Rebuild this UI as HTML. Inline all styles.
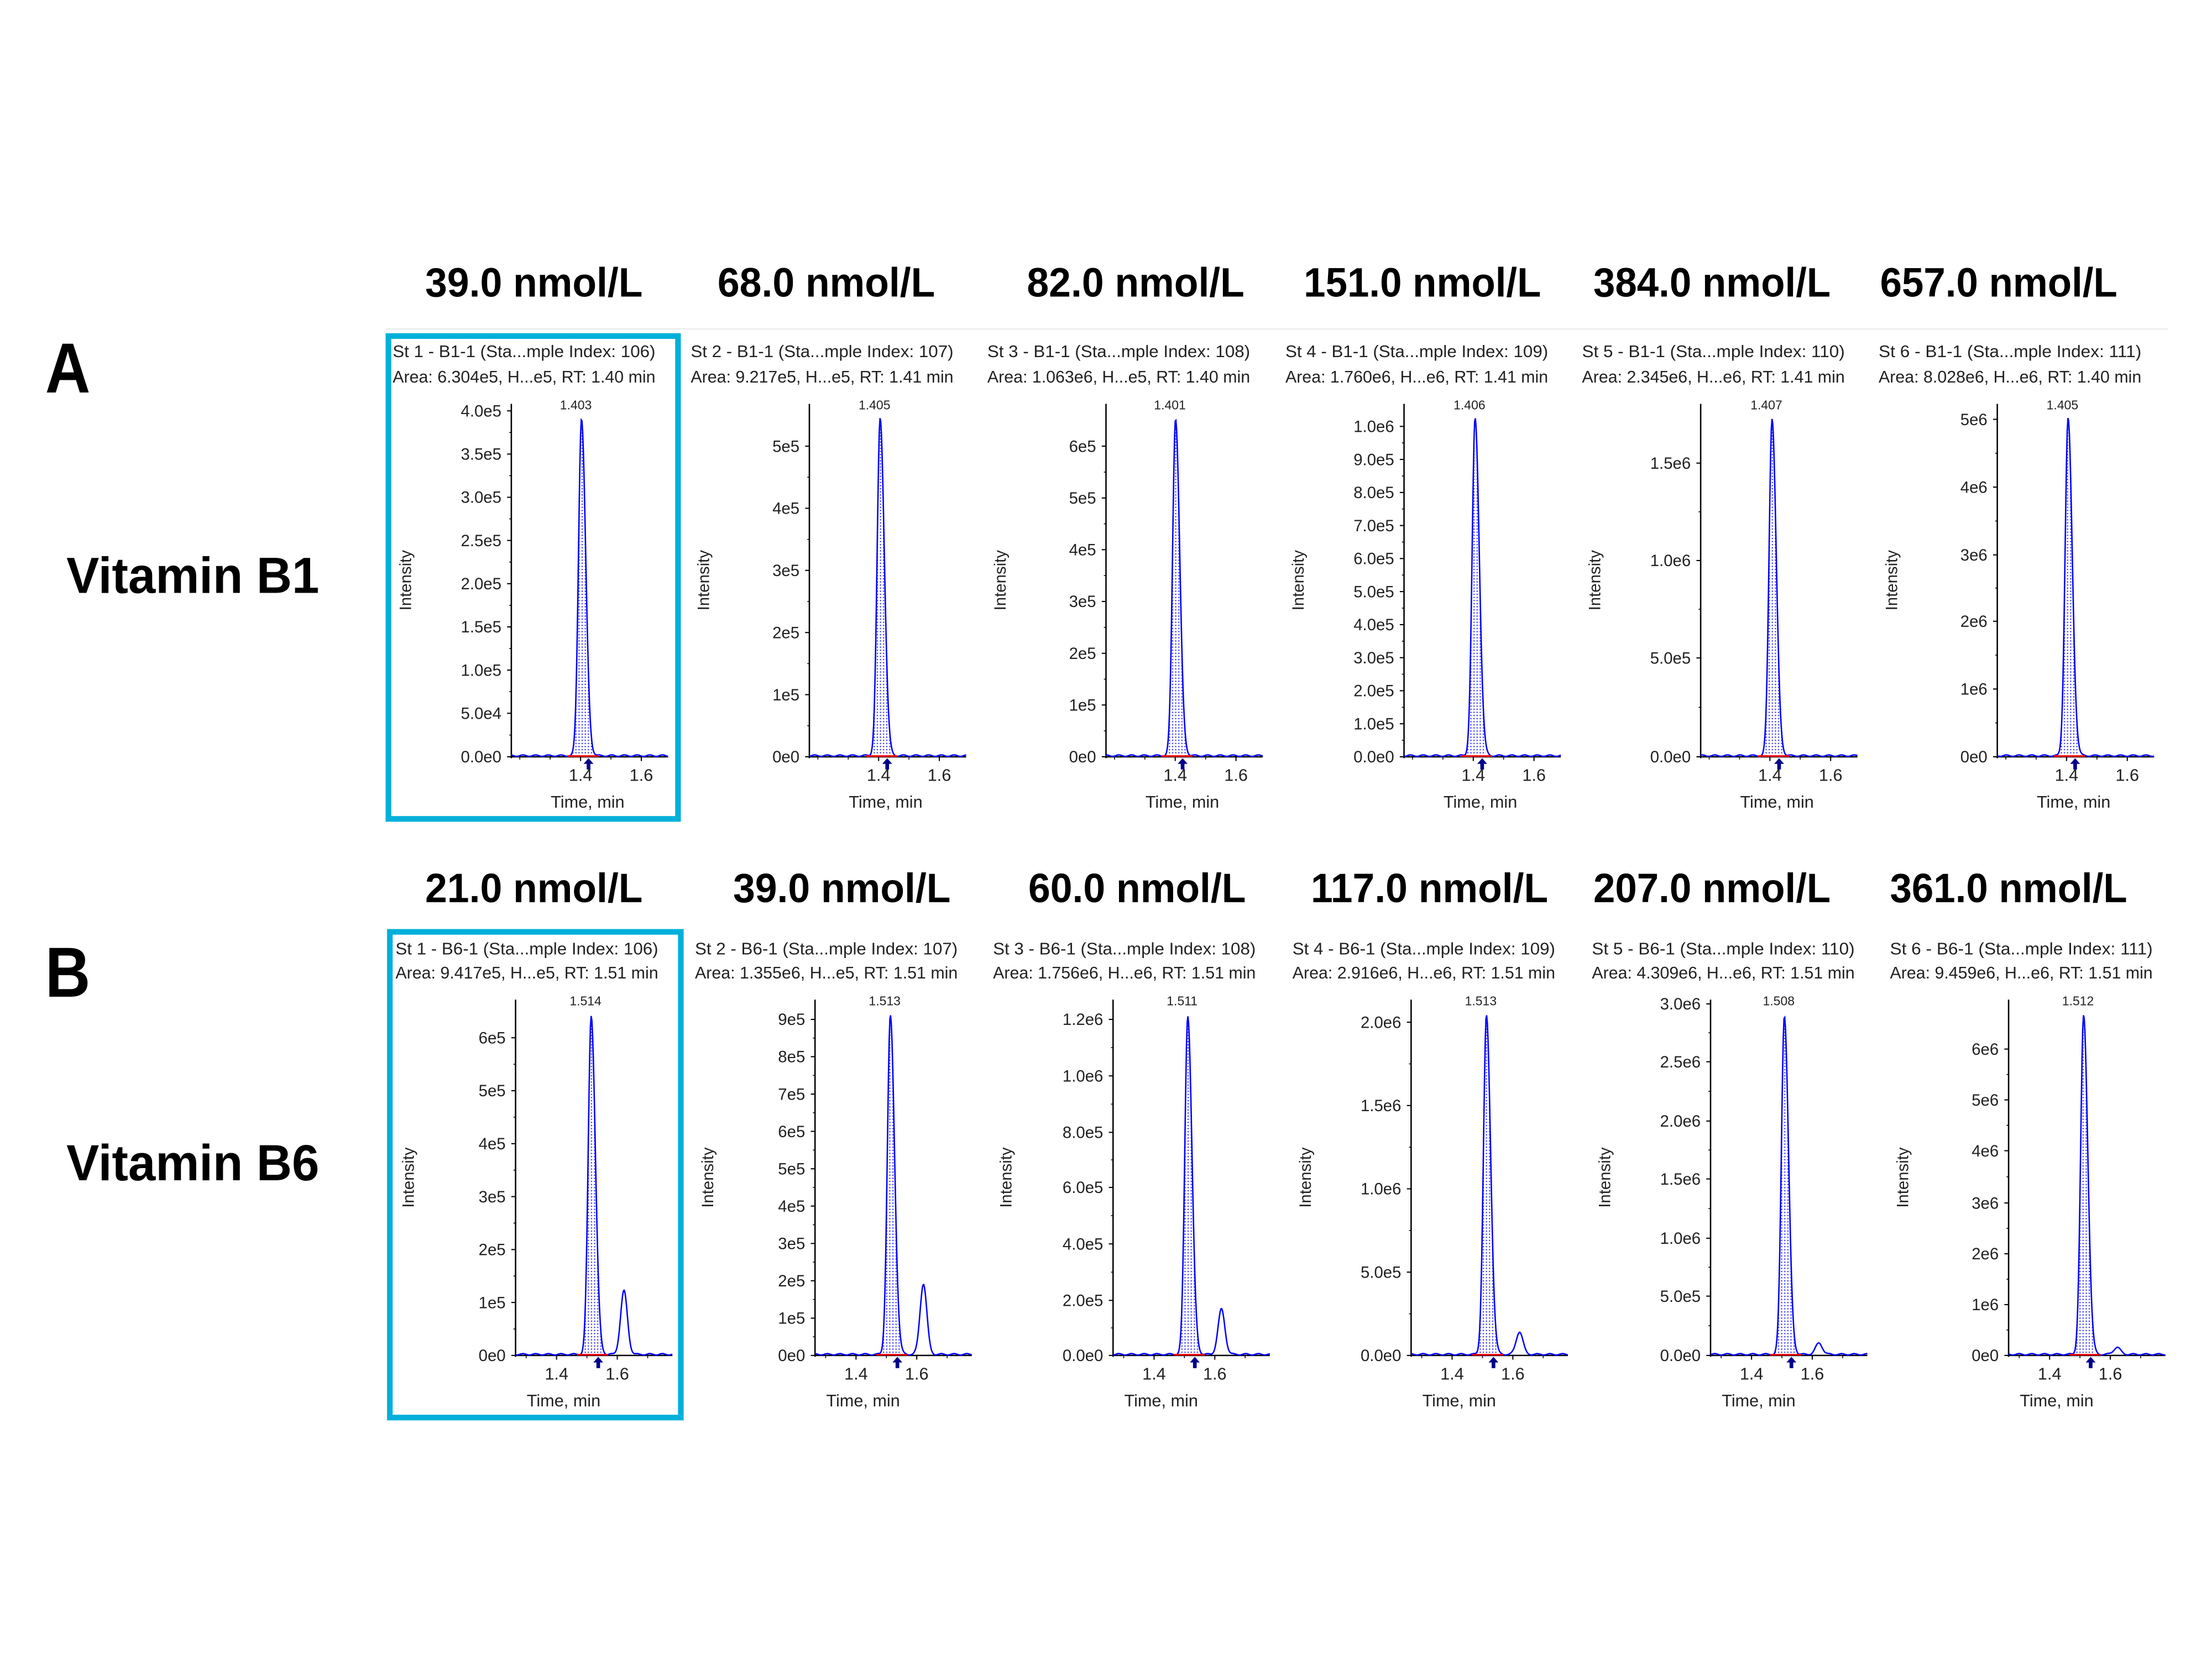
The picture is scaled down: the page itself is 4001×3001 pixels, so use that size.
<!DOCTYPE html>
<html><head><meta charset="utf-8">
<style>html,body{margin:0;padding:0;background:#fff;}svg{display:block;}</style>
</head><body>
<svg id="s" xmlns="http://www.w3.org/2000/svg" width="4001" height="3001" viewBox="0 0 1566 1175" preserveAspectRatio="none">
<defs>
<pattern id="dots" width="2.2" height="2.2" patternUnits="userSpaceOnUse">
<rect width="2.2" height="2.2" fill="#fff"/>
<rect x="0.3" y="0.3" width="0.9" height="0.9" fill="#3a3aff"/>
</pattern>
</defs>
<rect width="1566" height="1175" fill="#fff"/>
<line x1="273" y1="233" x2="1535" y2="233" stroke="#ececec" stroke-width="1"/>
<g font-family="'Liberation Sans Narrow','Liberation Sans',sans-serif" font-weight="bold" fill="#000">
<text x="48" y="278" font-size="50" text-anchor="middle" textLength="32" lengthAdjust="spacingAndGlyphs">A</text>
<text x="48" y="706" font-size="50" text-anchor="middle" textLength="32" lengthAdjust="spacingAndGlyphs">B</text>
<text x="47" y="420" font-size="36" textLength="179" lengthAdjust="spacingAndGlyphs">Vitamin B1</text>
<text x="47" y="836" font-size="36" textLength="179" lengthAdjust="spacingAndGlyphs">Vitamin B6</text>
</g>
<g id="g"></g>
<rect x="275" y="238" width="205" height="342" fill="none" stroke="#00b0da" stroke-width="4"/>
<rect x="276" y="660" width="206" height="344" fill="none" stroke="#00b0da" stroke-width="4"/>
</svg>
<script>
var g=document.getElementById('g');var h='';
var F="font-family=\"'Liberation Sans',sans-serif\"";
function T(x,y,s,t,a,ex){return '<text x="'+x+'" y="'+y+'" font-size="'+s+'" '+F+' fill="#222" '+(a?'text-anchor="'+a+'" ':'')+(ex||'')+'>'+t+'</text>';}
var rows=[
{base:536,top:286,hy1:253,hy2:271,ty:200,
titles:[["39.0 nmol/L",378],["68.0 nmol/L",585],["82.0 nmol/L",804],["151.0 nmol/L",1007],["384.0 nmol/L",1212],["657.0 nmol/L",1415]],
left:[278,489,699,910,1120,1330],ax:[362,573,783,994,1204,1414],
rt:[1.403,1.405,1.401,1.406,1.407,1.405],tag:"B1",
area:["6.304e5, H...e5, RT: 1.40","9.217e5, H...e5, RT: 1.41","1.063e6, H...e5, RT: 1.40","1.760e6, H...e6, RT: 1.41","2.345e6, H...e6, RT: 1.41","8.028e6, H...e6, RT: 1.40"],
ticks:[[["4.0e5",291],["3.5e5",321.6],["3.0e5",352.2],["2.5e5",382.8],["2.0e5",413.4],["1.5e5",444],["1.0e5",474.6],["5.0e4",505.2],["0.0e0",536]],
[["5e5",316],["4e5",360],["3e5",404],["2e5",448],["1e5",492],["0e0",536]],
[["6e5",316],["5e5",352.7],["4e5",389.3],["3e5",426],["2e5",462.7],["1e5",499.3],["0e0",536]],
[["1.0e6",302],["9.0e5",325.4],["8.0e5",348.8],["7.0e5",372.2],["6.0e5",395.6],["5.0e5",419],["4.0e5",442.4],["3.0e5",465.8],["2.0e5",489.2],["1.0e5",512.6],["0.0e0",536]],
[["1.5e6",328],["1.0e6",397],["5.0e5",466],["0.0e0",536]],
[["5e6",297],["4e6",345],["3e6",393],["2e6",440],["1e6",488],["0e0",536]]],
second:[0,0,0,0,0,0],peak:297},
{base:960,top:708,hy1:676,hy2:693,ty:629,
titles:[["21.0 nmol/L",378],["39.0 nmol/L",596],["60.0 nmol/L",805],["117.0 nmol/L",1012],["207.0 nmol/L",1212],["361.0 nmol/L",1422]],
left:[280,492,703,915,1127,1338],ax:[365,577,788,999,1211,1422],
rt:[1.514,1.513,1.511,1.513,1.508,1.512],tag:"B6",
area:["9.417e5, H...e5, RT: 1.51","1.355e6, H...e5, RT: 1.51","1.756e6, H...e6, RT: 1.51","2.916e6, H...e6, RT: 1.51","4.309e6, H...e6, RT: 1.51","9.459e6, H...e6, RT: 1.51"],
ticks:[[["6e5",735],["5e5",772.5],["4e5",810],["3e5",847.5],["2e5",885],["1e5",922.5],["0e0",960]],
[["9e5",722],["8e5",748.4],["7e5",774.9],["6e5",801.3],["5e5",827.8],["4e5",854.2],["3e5",880.7],["2e5",907.1],["1e5",933.6],["0e0",960]],
[["1.2e6",722],["1.0e6",762],["8.0e5",802],["6.0e5",841],["4.0e5",881],["2.0e5",921],["0.0e0",960]],
[["2.0e6",724],["1.5e6",783],["1.0e6",842],["5.0e5",901],["0.0e0",960]],
[["3.0e6",711],["2.5e6",752],["2.0e6",794],["1.5e6",835],["1.0e6",877],["5.0e5",918],["0.0e0",960]],
[["6e6",743],["5e6",779],["4e6",815],["3e6",852],["2e6",888],["1e6",924],["0e0",960]]],
second:[45,50,32,16,8,5],peak:720}];
var idx=[106,107,108,109,110,111];
rows.forEach(function(r,ri){
 r.titles.forEach(function(t){
  var w=t[0].length>11?168:154;
  h+='<text x="'+t[1]+'" y="'+(r.ty+10)+'" font-size="29" font-family="\'Liberation Sans Narrow\',\'Liberation Sans\',sans-serif" font-weight="bold" text-anchor="middle" textLength="'+w+'" lengthAdjust="spacingAndGlyphs">'+t[0]+'</text>';
 });
 for(var c=0;c<6;c++){
  var L=r.left[c],X=r.ax[c],B=r.base;
  h+=T(L,r.hy1,12,'St '+(c+1)+' - '+r.tag+'-1 (Sta...mple Index: '+idx[c]+')',null,'textLength="186" lengthAdjust="spacingAndGlyphs"');
  h+=T(L,r.hy2,12,'Area: '+r.area[c]+' min',null,'textLength="186" lengthAdjust="spacingAndGlyphs"');
  h+='<line x1="'+X+'" y1="'+r.top+'" x2="'+X+'" y2="'+(B+1)+'" stroke="#000" stroke-width="1"/>';
  h+='<line x1="'+X+'" y1="'+B+'" x2="'+(X+111)+'" y2="'+B+'" stroke="#000" stroke-width="1"/>';
  var tk=r.ticks[c];
  tk.forEach(function(t){h+='<line x1="'+(X-3)+'" y1="'+t[1]+'" x2="'+X+'" y2="'+t[1]+'" stroke="#000" stroke-width="0.8"/>';
   h+=T(X-7,t[1]+4,11.5,t[0],'end');});
  for(var i=0;i<tk.length-1;i++){var m=(tk[i][1]+tk[i+1][1])/2;h+='<line x1="'+(X-1.5)+'" y1="'+m+'" x2="'+X+'" y2="'+m+'" stroke="#000" stroke-width="0.6"/>';}
  var t0=ri==0?1.172:1.265, pxm=215;
  function tx(t){return X+(t-t0)*pxm;}
  [1.4,1.6].forEach(function(t){h+='<line x1="'+tx(t)+'" y1="'+B+'" x2="'+tx(t)+'" y2="'+(B+3)+'" stroke="#000" stroke-width="0.8"/>';h+=T(tx(t),B+17,12,t.toFixed(1),'middle');});
  for(var t=1.2;t<1.71;t+=0.1){var xx=tx(t);if(xx>X&&xx<X+111)h+='<line x1="'+xx+'" y1="'+B+'" x2="'+xx+'" y2="'+(B+2)+'" stroke="#000" stroke-width="0.6"/>';}
  h+=T(tx(1.4)+5,B+36,12,'Time, min','middle');
  var ly=(r.top+B)/2;
  h+=T(0,0,11.5,'Intensity','middle','transform="translate('+(L+13)+','+ly+') rotate(-90)"');
  var pk=tx(r.rt[c]),H=B-r.peak,sig=2.1,pts=[],fill=[];
  var sH=r.second[c],spx=tx(ri==0?1.6:1.622);
  for(var x=X;x<=X+111;x+=0.5){
   var y=H*Math.exp(-Math.pow(x-pk,2)/(2*sig*sig));
   if(x>pk)y=H*Math.exp(-Math.pow(x-pk,2)/(2*(sig*1.4)*(sig*1.4)));
   if(sH)y+=sH*Math.exp(-Math.pow(x-spx,2)/(2*2.4*2.4));
   y+=0.8+0.5*Math.sin(x*0.7);
   pts.push(x.toFixed(1)+','+(B-y).toFixed(1));
   if(Math.abs(x-pk)<8)fill.push(x.toFixed(1)+','+(B-y+0.5).toFixed(1));
  }
  h+='<polygon points="'+fill[0].split(',')[0]+','+B+' '+fill.join(' ')+' '+fill[fill.length-1].split(',')[0]+','+B+'" fill="url(#dots)" stroke="none"/>';
  h+='<polyline points="'+pts.join(' ')+'" fill="none" stroke="#0000ff" stroke-width="1"/>';
  h+='<line x1="'+(pk-10)+'" y1="'+(B-0.5)+'" x2="'+(pk+12)+'" y2="'+(B-0.5)+'" stroke="#ff0000" stroke-width="1.2"/>';
  h+='<path d="M'+(pk+5)+','+(B+1)+' l-3.5,4 h2.2 v4 h2.6 v-4 h2.2 z" fill="#00008b"/>';
  h+=T(pk-4,r.top+4,9,r.rt[c].toFixed(3),'middle');
 }
});
g.innerHTML=h;
</script>
</body></html>
